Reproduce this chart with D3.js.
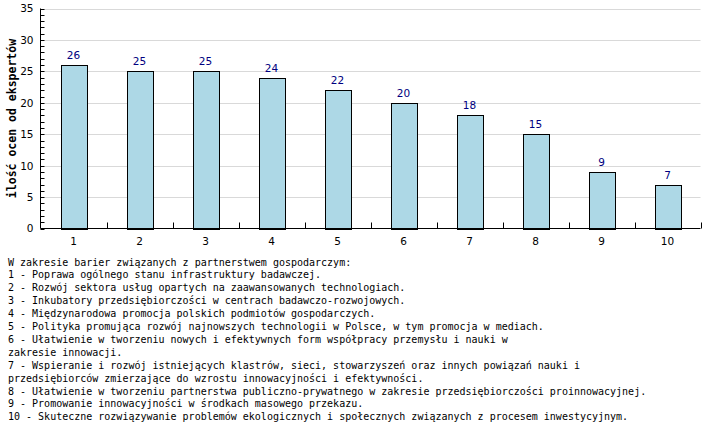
<!DOCTYPE html>
<html><head><meta charset="utf-8">
<script src="https://cdn.jsdelivr.net/npm/d3@7"></script>
<style>body{margin:0;background:#fff}svg{display:block}</style>
</head><body>
<script>
const categories = ["1","2","3","4","5","6","7","8","9","10"];
const values = [26,25,25,24,22,20,18,15,9,7];
const yTicks = [0,5,10,15,20,25,30,35];
const yTitle = "ilość ocen od ekspertów";
const legendLines = [
 "W zakresie barier związanych z partnerstwem gospodarczym:",
 "1 - Poprawa ogólnego stanu infrastruktury badawczej.",
 "2 - Rozwój sektora usług opartych na zaawansowanych technologiach.",
 "3 - Inkubatory przedsiębiorczości w centrach badawczo-rozwojowych.",
 "4 - Międzynarodowa promocja polskich podmiotów gospodarczych.",
 "5 - Polityka promująca rozwój najnowszych technologii w Polsce, w tym promocja w mediach.",
 "6 - Ułatwienie w tworzeniu nowych i efektywnych form współpracy przemysłu i nauki w",
 "zakresie innowacji.",
 "7 - Wspieranie i rozwój istniejących klastrów, sieci, stowarzyszeń oraz innych powiązań nauki i",
 "przedsiębiorców zmierzające do wzrostu innowacyjności i efektywności.",
 "8 - Ułatwienie w tworzeniu partnerstwa publiczno-prywatnego w zakresie przedsiębiorczości proinnowacyjnej.",
 "9 - Promowanie innowacyjności w środkach masowego przekazu.",
 "10 - Skuteczne rozwiązywanie problemów ekologicznych i społecznych związanych z procesem inwestycyjnym."
];

const W = 707, H = 434;
const m = {left: 40.5, right: 700.5, top: 8.5, bottom: 228.5};
const svg = d3.select("body").append("svg").attr("width", W).attr("height", H);

const x = d3.scaleBand().domain(categories).range([m.left, m.right]);
const y = d3.scaleLinear().domain([0, 35]).range([m.bottom, m.top]);

// gridlines
svg.append("g").selectAll("line").data(yTicks.filter(d => d > 0)).join("line")
  .attr("x1", m.left).attr("x2", m.right)
  .attr("y1", d => Math.round(y(d)) + 0.5).attr("y2", d => Math.round(y(d)) + 0.5)
  .attr("stroke", "#d9d9d9").attr("stroke-width", 1);

// y axis minor ticks
const minor = d3.range(0, 36);
svg.append("g").selectAll("line").data(minor).join("line")
  .attr("x1", m.left).attr("x2", m.left + 4)
  .attr("y1", d => Math.round(y(d)) + 0.5).attr("y2", d => Math.round(y(d)) + 0.5)
  .attr("stroke", "#000");

// y axis
const yAxis = d3.axisLeft(y).tickValues(yTicks).tickSize(0).tickPadding(7);
const gy = svg.append("g").attr("transform", `translate(${m.left},0)`).call(yAxis);
gy.select(".domain").remove();
gy.selectAll("text").attr("font-family", "DejaVu Sans").attr("font-size", "10.5px").attr("fill", "#000");
svg.append("line").attr("x1", m.left).attr("x2", m.left).attr("y1", m.top).attr("y2", m.bottom).attr("stroke", "#000");

// bars
const bw = 26;
svg.append("g").selectAll("rect").data(values).join("rect")
  .attr("x", (d, i) => Math.round(x(categories[i]) + x.bandwidth() / 2 - bw / 2) + 0.5)
  .attr("y", d => Math.round(y(d)) + 0.5)
  .attr("width", bw)
  .attr("height", d => Math.round(y(0)) - Math.round(y(d)))
  .attr("fill", "#add8e6").attr("stroke", "#000").attr("stroke-width", 1);

// value labels
svg.append("g").selectAll("text").data(values).join("text")
  .attr("x", (d, i) => x(categories[i]) + x.bandwidth() / 2)
  .attr("y", d => y(d) - 6)
  .attr("text-anchor", "middle")
  .attr("font-family", "DejaVu Sans").attr("font-size", "10.5px").attr("fill", "#000080")
  .text(d => d);

// x axis
const xAxis = d3.axisBottom(x).tickSize(0).tickPadding(9);
const gx = svg.append("g").attr("transform", `translate(0,${m.bottom})`).call(xAxis);
gx.select(".domain").remove();
gx.selectAll("text").attr("font-family", "DejaVu Sans").attr("font-size", "10.5px").attr("fill", "#000");
svg.append("line").attr("x1", m.left).attr("x2", m.right).attr("y1", m.bottom).attr("y2", m.bottom).attr("stroke", "#000");
// band boundary ticks pointing up
svg.append("g").selectAll("line").data(categories).join("line")
  .attr("x1", d => Math.round(x(d) + x.bandwidth()) + 0.5)
  .attr("x2", d => Math.round(x(d) + x.bandwidth()) + 0.5)
  .attr("y1", m.bottom).attr("y2", m.bottom - 6)
  .attr("stroke", "#000");

// y title
svg.append("text")
  .attr("transform", `translate(16,${(m.top + m.bottom) / 2}) rotate(-90)`)
  .attr("text-anchor", "middle")
  .attr("font-family", "DejaVu Sans Mono").attr("font-weight", "bold").attr("font-size", "11.5px")
  .attr("fill", "#000")
  .text(yTitle);

// legend text
svg.append("g").selectAll("text").data(legendLines).join("text")
  .attr("x", 8).attr("y", (d, i) => 265.5 + i * 12.9)
  .attr("font-family", "DejaVu Sans Mono").attr("font-size", "10px").attr("fill", "#000")
  .attr("xml:space", "preserve")
  .text(d => d);
</script>
</body></html>
